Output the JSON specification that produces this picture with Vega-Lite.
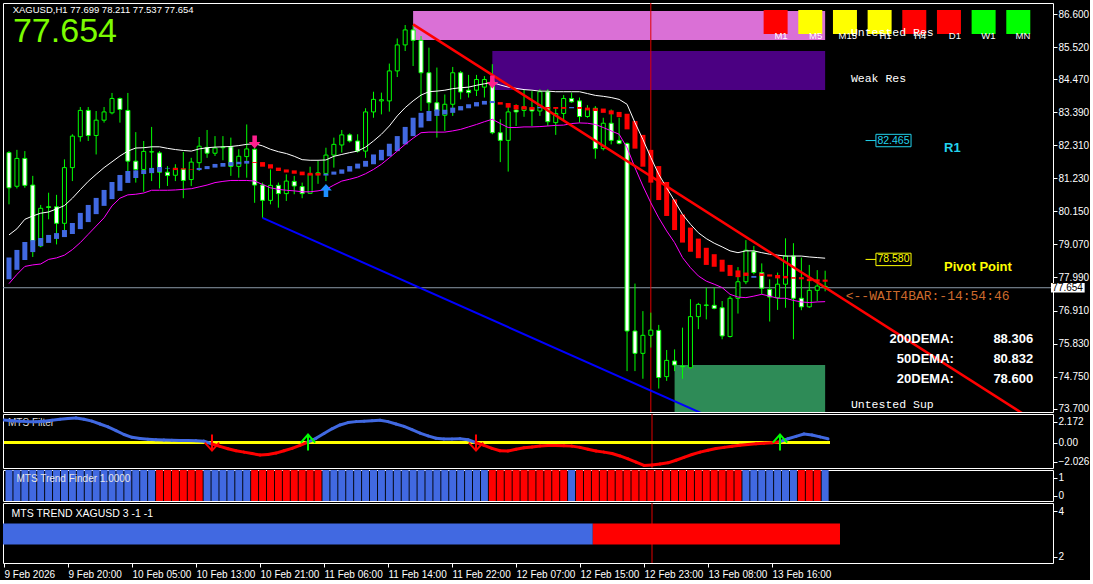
{
"$schema":"https://vega.github.io/schema/vega-lite/v6.json",
"background":"#000000",
"padding":{"left":2,"top":2,"right":0,"bottom":0},
"spacing":2,
"bounds":"flush",
"config":{
 "view":{"stroke":"#FFFFFF","strokeWidth":1,"fill":"#000000"},
 "axis":{"grid":false,"domain":false,"ticks":true,"tickColor":"#FFFFFF","tickSize":4,"tickWidth":1,"labelColor":"#FFFFFF","labelFont":"Liberation Sans","labelFontSize":10,"labelPadding":1,"labelOverlap":false,"labelFlush":false,"tickCount":40},
 "text":{"font":"Liberation Sans"}
},
"datasets":{
 "bars":[
{"k":0,"o":82.07,"h":82.12,"l":80.38,"c":80.92,"e":79.38,"m":77.79,"ht":78.64,"hb":77.93,"hd":"u","f":2.36,"fd":"u","tf":"u"},
{"k":1,"o":80.97,"h":82.16,"l":80.90,"c":81.88,"e":79.58,"m":78.09,"ht":78.89,"hb":78.24,"hd":"u","f":2.30,"fd":"u","tf":"u"},
{"k":2,"o":81.88,"h":82.12,"l":80.92,"c":81.00,"e":79.89,"m":78.35,"ht":79.15,"hb":78.56,"hd":"u","f":2.25,"fd":"u","tf":"u"},
{"k":3,"o":81.01,"h":81.31,"l":78.66,"c":79.18,"e":80.00,"m":78.40,"ht":79.21,"hb":78.82,"hd":"u","f":2.20,"fd":"u","tf":"u"},
{"k":4,"o":79.02,"h":80.36,"l":78.98,"c":80.25,"e":80.09,"m":78.43,"ht":79.28,"hb":79.02,"hd":"u","f":2.18,"fd":"u","tf":"u"},
{"k":5,"o":80.30,"h":80.76,"l":79.89,"c":80.28,"e":80.13,"m":78.58,"ht":79.38,"hb":79.12,"hd":"u","f":2.25,"fd":"u","tf":"u"},
{"k":6,"o":80.30,"h":80.69,"l":79.07,"c":79.76,"e":80.23,"m":78.63,"ht":79.44,"hb":79.25,"hd":"u","f":2.35,"fd":"u","tf":"u"},
{"k":7,"o":79.76,"h":81.85,"l":79.51,"c":81.58,"e":80.34,"m":78.72,"ht":79.54,"hb":79.31,"hd":"u","f":2.45,"fd":"u","tf":"u"},
{"k":8,"o":81.58,"h":82.67,"l":81.14,"c":82.61,"e":80.58,"m":78.90,"ht":79.77,"hb":79.41,"hd":"u","f":2.53,"fd":"u","tf":"u"},
{"k":9,"o":82.59,"h":83.56,"l":82.43,"c":83.45,"e":80.86,"m":79.13,"ht":80.10,"hb":79.57,"hd":"u","f":2.57,"fd":"u","tf":"u"},
{"k":10,"o":83.45,"h":83.56,"l":82.45,"c":82.63,"e":81.13,"m":79.40,"ht":80.36,"hb":79.80,"hd":"u","f":2.45,"fd":"u","tf":"u"},
{"k":11,"o":82.63,"h":83.43,"l":82.01,"c":83.13,"e":81.36,"m":79.67,"ht":80.59,"hb":80.06,"hd":"u","f":2.25,"fd":"u","tf":"u"},
{"k":12,"o":83.13,"h":83.56,"l":83.05,"c":83.40,"e":81.58,"m":79.94,"ht":80.85,"hb":80.33,"hd":"u","f":1.95,"fd":"u","tf":"u"},
{"k":13,"o":83.37,"h":84.02,"l":83.32,"c":83.84,"e":81.77,"m":80.33,"ht":81.11,"hb":80.55,"hd":"u","f":1.65,"fd":"u","tf":"u"},
{"k":14,"o":83.84,"h":83.87,"l":83.05,"c":83.48,"e":81.96,"m":80.58,"ht":81.34,"hb":80.82,"hd":"u","f":1.25,"fd":"u","tf":"u"},
{"k":15,"o":83.45,"h":84.02,"l":81.12,"c":81.79,"e":82.12,"m":80.69,"ht":81.47,"hb":81.08,"hd":"u","f":0.85,"fd":"u","tf":"u"},
{"k":16,"o":81.79,"h":82.74,"l":81.09,"c":81.52,"e":82.22,"m":80.71,"ht":81.49,"hb":81.24,"hd":"u","f":0.55,"fd":"u","tf":"u"},
{"k":17,"o":81.52,"h":82.45,"l":80.79,"c":82.11,"e":82.23,"m":80.75,"ht":81.50,"hb":81.37,"hd":"u","f":0.42,"fd":"u","tf":"u"},
{"k":18,"o":82.09,"h":82.91,"l":81.14,"c":82.10,"e":82.26,"m":80.84,"ht":81.57,"hb":81.40,"hd":"u","f":0.34,"fd":"u","tf":"u"},
{"k":19,"o":82.06,"h":82.12,"l":80.90,"c":81.43,"e":82.26,"m":80.84,"ht":81.60,"hb":81.44,"hd":"u","f":0.30,"fd":"u","tf":"d"},
{"k":20,"o":81.43,"h":81.63,"l":80.98,"c":81.32,"e":82.21,"m":80.84,"ht":81.57,"hb":81.55,"hd":"u","f":0.26,"fd":"u","tf":"d"},
{"k":21,"o":81.33,"h":81.69,"l":81.14,"c":81.56,"e":82.17,"m":80.85,"ht":81.57,"hb":81.50,"hd":"d","f":0.24,"fd":"u","tf":"d"},
{"k":22,"o":81.53,"h":82.09,"l":80.58,"c":81.16,"e":82.14,"m":80.87,"ht":81.56,"hb":81.52,"hd":"d","f":0.22,"fd":"u","tf":"d"},
{"k":23,"o":81.19,"h":81.90,"l":80.98,"c":81.76,"e":82.12,"m":80.89,"ht":81.53,"hb":81.51,"hd":"d","f":0.21,"fd":"u","tf":"d"},
{"k":24,"o":81.74,"h":82.58,"l":81.47,"c":82.28,"e":82.19,"m":80.95,"ht":81.57,"hb":81.50,"hd":"u","f":0.20,"fd":"u","tf":"d"},
{"k":25,"o":82.24,"h":82.81,"l":81.90,"c":82.05,"e":82.23,"m":81.01,"ht":81.63,"hb":81.53,"hd":"u","f":0.15,"fd":"u","tf":"u"},
{"k":26,"o":82.05,"h":82.61,"l":81.96,"c":82.22,"e":82.25,"m":81.09,"ht":81.70,"hb":81.58,"hd":"u","f":-0.15,"fd":"d","tf":"u"},
{"k":27,"o":82.23,"h":82.61,"l":81.82,"c":82.25,"e":82.26,"m":81.13,"ht":81.73,"hb":81.61,"hd":"u","f":-0.40,"fd":"d","tf":"u"},
{"k":28,"o":82.26,"h":82.56,"l":81.31,"c":81.62,"e":82.27,"m":81.16,"ht":81.76,"hb":81.64,"hd":"u","f":-0.65,"fd":"d","tf":"u"},
{"k":29,"o":81.62,"h":82.18,"l":81.25,"c":81.95,"e":82.30,"m":81.16,"ht":81.77,"hb":81.69,"hd":"u","f":-0.85,"fd":"d","tf":"u"},
{"k":30,"o":81.94,"h":82.99,"l":81.25,"c":82.19,"e":82.34,"m":81.16,"ht":81.80,"hb":81.71,"hd":"u","f":-1.00,"fd":"d","tf":"u"},
{"k":31,"o":82.18,"h":82.39,"l":80.43,"c":81.01,"e":82.36,"m":81.14,"ht":81.76,"hb":81.73,"hd":"d","f":-1.15,"fd":"d","tf":"d"},
{"k":32,"o":81.01,"h":81.09,"l":79.94,"c":80.51,"e":82.29,"m":81.03,"ht":81.76,"hb":81.61,"hd":"d","f":-1.30,"fd":"d","tf":"d"},
{"k":33,"o":80.51,"h":81.52,"l":80.38,"c":81.00,"e":82.18,"m":80.92,"ht":81.69,"hb":81.55,"hd":"d","f":-1.25,"fd":"d","tf":"d"},
{"k":34,"o":81.00,"h":81.09,"l":80.27,"c":80.73,"e":82.10,"m":80.87,"ht":81.58,"hb":81.47,"hd":"d","f":-1.10,"fd":"d","tf":"d"},
{"k":35,"o":80.73,"h":81.36,"l":80.49,"c":81.14,"e":82.04,"m":80.84,"ht":81.52,"hb":81.42,"hd":"d","f":-0.85,"fd":"d","tf":"d"},
{"k":36,"o":81.13,"h":81.31,"l":80.71,"c":80.98,"e":81.95,"m":80.82,"ht":81.49,"hb":81.38,"hd":"d","f":-0.60,"fd":"d","tf":"d"},
{"k":37,"o":80.96,"h":81.09,"l":80.58,"c":80.73,"e":81.84,"m":80.79,"ht":81.45,"hb":81.33,"hd":"d","f":-0.30,"fd":"d","tf":"d"},
{"k":38,"o":80.74,"h":81.61,"l":80.73,"c":81.37,"e":81.82,"m":80.79,"ht":81.41,"hb":81.32,"hd":"d","f":0.05,"fd":"u","tf":"d"},
{"k":39,"o":81.36,"h":81.80,"l":81.05,"c":81.41,"e":81.82,"m":80.82,"ht":81.40,"hb":81.32,"hd":"d","f":0.45,"fd":"u","tf":"d"},
{"k":40,"o":81.39,"h":82.23,"l":81.14,"c":81.99,"e":81.83,"m":80.87,"ht":81.38,"hb":81.32,"hd":"u","f":0.95,"fd":"u","tf":"u"},
{"k":41,"o":81.99,"h":82.56,"l":81.58,"c":82.34,"e":81.95,"m":81.01,"ht":81.45,"hb":81.35,"hd":"u","f":1.45,"fd":"u","tf":"u"},
{"k":42,"o":82.32,"h":82.81,"l":82.07,"c":82.65,"e":82.01,"m":81.14,"ht":81.52,"hb":81.38,"hd":"u","f":1.85,"fd":"u","tf":"u"},
{"k":43,"o":82.65,"h":82.70,"l":82.40,"c":82.45,"e":82.07,"m":81.20,"ht":81.63,"hb":81.45,"hd":"u","f":2.10,"fd":"u","tf":"u"},
{"k":44,"o":82.45,"h":82.67,"l":82.07,"c":82.12,"e":82.12,"m":81.27,"ht":81.71,"hb":81.55,"hd":"u","f":2.20,"fd":"u","tf":"u"},
{"k":45,"o":82.12,"h":83.52,"l":81.90,"c":83.40,"e":82.25,"m":81.38,"ht":81.80,"hb":81.61,"hd":"u","f":2.25,"fd":"u","tf":"u"},
{"k":46,"o":83.40,"h":84.06,"l":83.21,"c":83.81,"e":82.45,"m":81.52,"ht":82.01,"hb":81.69,"hd":"u","f":2.30,"fd":"u","tf":"u"},
{"k":47,"o":83.76,"h":84.03,"l":83.32,"c":83.80,"e":82.67,"m":81.69,"ht":82.16,"hb":81.82,"hd":"u","f":2.35,"fd":"u","tf":"u"},
{"k":48,"o":83.76,"h":84.98,"l":83.41,"c":84.74,"e":82.94,"m":81.90,"ht":82.36,"hb":81.95,"hd":"u","f":2.20,"fd":"u","tf":"u"},
{"k":49,"o":84.74,"h":85.80,"l":84.54,"c":85.59,"e":83.27,"m":82.12,"ht":82.61,"hb":82.12,"hd":"u","f":1.95,"fd":"u","tf":"u"},
{"k":50,"o":85.59,"h":86.24,"l":85.39,"c":86.08,"e":83.54,"m":82.34,"ht":82.91,"hb":82.34,"hd":"u","f":1.70,"fd":"u","tf":"u"},
{"k":51,"o":86.08,"h":86.24,"l":84.90,"c":85.74,"e":83.76,"m":82.54,"ht":83.21,"hb":82.61,"hd":"u","f":1.35,"fd":"u","tf":"u"},
{"k":52,"o":85.74,"h":85.88,"l":83.43,"c":84.68,"e":83.95,"m":82.72,"ht":83.37,"hb":82.89,"hd":"u","f":1.00,"fd":"u","tf":"u"},
{"k":53,"o":84.68,"h":85.50,"l":83.37,"c":83.70,"e":84.06,"m":82.74,"ht":83.43,"hb":83.10,"hd":"u","f":0.70,"fd":"u","tf":"u"},
{"k":54,"o":83.70,"h":84.85,"l":82.56,"c":83.43,"e":84.08,"m":82.74,"ht":83.48,"hb":83.27,"hd":"u","f":0.45,"fd":"u","tf":"u"},
{"k":55,"o":83.29,"h":83.97,"l":82.78,"c":83.65,"e":84.11,"m":82.74,"ht":83.47,"hb":83.32,"hd":"u","f":0.38,"fd":"u","tf":"u"},
{"k":56,"o":83.65,"h":84.87,"l":83.27,"c":84.68,"e":84.16,"m":82.78,"ht":83.54,"hb":83.37,"hd":"u","f":0.37,"fd":"u","tf":"u"},
{"k":57,"o":84.68,"h":84.74,"l":83.81,"c":84.05,"e":84.19,"m":82.83,"ht":83.59,"hb":83.45,"hd":"u","f":0.40,"fd":"u","tf":"u"},
{"k":58,"o":84.11,"h":84.61,"l":83.87,"c":84.03,"e":84.21,"m":82.91,"ht":83.65,"hb":83.52,"hd":"u","f":0.30,"fd":"u","tf":"u"},
{"k":59,"o":84.11,"h":84.61,"l":83.92,"c":84.46,"e":84.27,"m":82.99,"ht":83.72,"hb":83.58,"hd":"u","f":0.00,"fd":"d","tf":"u"},
{"k":60,"o":84.21,"h":84.57,"l":83.87,"c":84.46,"e":84.32,"m":83.08,"ht":83.76,"hb":83.64,"hd":"u","f":-0.30,"fd":"d","tf":"u"},
{"k":61,"o":84.41,"h":84.96,"l":82.67,"c":82.72,"e":84.36,"m":83.16,"ht":83.76,"hb":83.69,"hd":"u","f":-0.60,"fd":"d","tf":"d"},
{"k":62,"o":82.72,"h":83.16,"l":81.76,"c":82.47,"e":84.28,"m":83.02,"ht":83.72,"hb":83.64,"hd":"d","f":-0.85,"fd":"d","tf":"d"},
{"k":63,"o":82.47,"h":83.59,"l":81.45,"c":83.40,"e":84.21,"m":82.89,"ht":83.69,"hb":83.54,"hd":"d","f":-0.88,"fd":"d","tf":"d"},
{"k":64,"o":83.46,"h":83.65,"l":82.94,"c":83.40,"e":84.17,"m":82.89,"ht":83.63,"hb":83.48,"hd":"d","f":-0.70,"fd":"d","tf":"d"},
{"k":65,"o":83.45,"h":84.14,"l":83.24,"c":83.56,"e":84.13,"m":82.91,"ht":83.59,"hb":83.48,"hd":"d","f":-0.55,"fd":"d","tf":"d"},
{"k":66,"o":83.54,"h":84.08,"l":82.94,"c":83.43,"e":84.11,"m":82.91,"ht":83.56,"hb":83.47,"hd":"d","f":-0.45,"fd":"d","tf":"d"},
{"k":67,"o":83.43,"h":84.14,"l":83.27,"c":84.06,"e":84.08,"m":82.92,"ht":83.56,"hb":83.52,"hd":"u","f":-0.35,"fd":"d","tf":"d"},
{"k":68,"o":84.06,"h":84.14,"l":82.94,"c":83.08,"e":84.08,"m":82.94,"ht":83.56,"hb":83.51,"hd":"d","f":-0.30,"fd":"d","tf":"d"},
{"k":69,"o":83.05,"h":83.54,"l":82.65,"c":83.35,"e":84.06,"m":82.96,"ht":83.56,"hb":83.50,"hd":"d","f":-0.30,"fd":"d","tf":"d"},
{"k":70,"o":83.35,"h":83.95,"l":83.10,"c":83.84,"e":84.06,"m":82.97,"ht":83.56,"hb":83.50,"hd":"d","f":-0.33,"fd":"d","tf":"d"},
{"k":71,"o":83.84,"h":84.03,"l":83.70,"c":83.73,"e":84.06,"m":83.02,"ht":83.56,"hb":83.52,"hd":"u","f":-0.37,"fd":"d","tf":"u"},
{"k":72,"o":83.76,"h":83.87,"l":83.05,"c":83.25,"e":84.06,"m":83.04,"ht":83.56,"hb":83.50,"hd":"d","f":-0.50,"fd":"d","tf":"d"},
{"k":73,"o":83.25,"h":83.62,"l":83.21,"c":83.48,"e":84.00,"m":83.03,"ht":83.54,"hb":83.45,"hd":"d","f":-0.70,"fd":"d","tf":"d"},
{"k":74,"o":83.52,"h":83.59,"l":81.87,"c":82.20,"e":83.94,"m":82.99,"ht":83.52,"hb":83.43,"hd":"d","f":-0.88,"fd":"d","tf":"d"},
{"k":75,"o":82.20,"h":83.21,"l":82.14,"c":83.03,"e":83.91,"m":82.89,"ht":83.51,"hb":83.37,"hd":"d","f":-1.00,"fd":"d","tf":"d"},
{"k":76,"o":83.03,"h":83.48,"l":82.34,"c":82.47,"e":83.87,"m":82.78,"ht":83.45,"hb":83.32,"hd":"d","f":-1.15,"fd":"d","tf":"d"},
{"k":77,"o":82.47,"h":83.21,"l":82.34,"c":82.37,"e":83.81,"m":82.67,"ht":83.40,"hb":83.23,"hd":"d","f":-1.40,"fd":"d","tf":"d"},
{"k":78,"o":82.37,"h":82.40,"l":74.93,"c":76.24,"e":83.65,"m":82.23,"ht":83.34,"hb":82.83,"hd":"d","f":-1.70,"fd":"d","tf":"d"},
{"k":79,"o":76.24,"h":77.79,"l":74.93,"c":75.51,"e":83.05,"m":81.58,"ht":83.10,"hb":82.20,"hd":"d","f":-2.05,"fd":"d","tf":"d"},
{"k":80,"o":75.51,"h":76.89,"l":74.68,"c":76.10,"e":82.50,"m":80.98,"ht":82.65,"hb":81.61,"hd":"d","f":-2.39,"fd":"d","tf":"d"},
{"k":81,"o":76.10,"h":76.84,"l":75.70,"c":76.27,"e":81.91,"m":80.43,"ht":82.16,"hb":81.09,"hd":"d","f":-2.35,"fd":"d","tf":"d"},
{"k":82,"o":76.26,"h":76.44,"l":74.36,"c":74.72,"e":81.36,"m":79.94,"ht":81.63,"hb":80.52,"hd":"d","f":-2.25,"fd":"d","tf":"d"},
{"k":83,"o":74.75,"h":75.62,"l":74.61,"c":75.28,"e":80.92,"m":79.51,"ht":81.11,"hb":80.00,"hd":"d","f":-2.12,"fd":"d","tf":"d"},
{"k":84,"o":75.26,"h":75.64,"l":74.93,"c":75.13,"e":80.49,"m":79.13,"ht":80.54,"hb":79.54,"hd":"d","f":-1.85,"fd":"d","tf":"d"},
{"k":85,"o":75.09,"h":76.35,"l":74.68,"c":75.07,"e":80.05,"m":78.64,"ht":80.05,"hb":79.13,"hd":"d","f":-1.55,"fd":"d","tf":"d"},
{"k":86,"o":75.04,"h":77.28,"l":75.02,"c":76.71,"e":79.73,"m":78.31,"ht":79.62,"hb":78.83,"hd":"d","f":-1.25,"fd":"d","tf":"d"},
{"k":87,"o":76.71,"h":77.16,"l":76.30,"c":77.11,"e":79.45,"m":78.04,"ht":79.26,"hb":78.62,"hd":"d","f":-1.00,"fd":"d","tf":"d"},
{"k":88,"o":77.09,"h":77.66,"l":76.62,"c":77.08,"e":79.26,"m":77.87,"ht":78.96,"hb":78.40,"hd":"d","f":-0.80,"fd":"d","tf":"d"},
{"k":89,"o":77.08,"h":77.66,"l":76.95,"c":76.98,"e":79.11,"m":77.77,"ht":78.75,"hb":78.34,"hd":"d","f":-0.62,"fd":"d","tf":"d"},
{"k":90,"o":77.00,"h":77.22,"l":75.97,"c":76.08,"e":78.99,"m":77.66,"ht":78.57,"hb":78.18,"hd":"d","f":-0.50,"fd":"d","tf":"d"},
{"k":91,"o":76.06,"h":77.38,"l":76.03,"c":77.31,"e":78.86,"m":77.44,"ht":78.40,"hb":78.04,"hd":"d","f":-0.38,"fd":"d","tf":"d"},
{"k":92,"o":77.31,"h":78.33,"l":76.81,"c":77.85,"e":78.80,"m":77.35,"ht":78.22,"hb":78.00,"hd":"d","f":-0.28,"fd":"d","tf":"d"},
{"k":93,"o":77.85,"h":79.21,"l":77.77,"c":78.88,"e":78.86,"m":77.33,"ht":78.15,"hb":78.04,"hd":"d","f":-0.20,"fd":"d","tf":"u"},
{"k":94,"o":78.83,"h":79.02,"l":78.09,"c":78.15,"e":78.86,"m":77.38,"ht":78.04,"hb":77.98,"hd":"u","f":-0.13,"fd":"d","tf":"u"},
{"k":95,"o":78.15,"h":78.45,"l":77.44,"c":77.64,"e":78.80,"m":77.44,"ht":78.12,"hb":78.04,"hd":"d","f":-0.07,"fd":"d","tf":"u"},
{"k":96,"o":77.60,"h":77.93,"l":76.55,"c":77.35,"e":78.75,"m":77.38,"ht":78.09,"hb":78.02,"hd":"d","f":-0.02,"fd":"d","tf":"u"},
{"k":97,"o":77.33,"h":78.15,"l":76.93,"c":77.77,"e":78.72,"m":77.31,"ht":78.07,"hb":77.96,"hd":"d","f":0.10,"fd":"u","tf":"u"},
{"k":98,"o":77.77,"h":79.27,"l":77.00,"c":78.69,"e":78.69,"m":77.31,"ht":78.04,"hb":77.96,"hd":"d","f":0.40,"fd":"u","tf":"u"},
{"k":99,"o":78.69,"h":79.11,"l":75.97,"c":77.31,"e":78.69,"m":77.24,"ht":78.00,"hb":77.95,"hd":"d","f":0.65,"fd":"u","tf":"u"},
{"k":100,"o":77.31,"h":78.64,"l":76.92,"c":77.03,"e":78.69,"m":77.19,"ht":78.00,"hb":77.93,"hd":"d","f":0.90,"fd":"u","tf":"d"},
{"k":101,"o":77.03,"h":78.40,"l":77.00,"c":77.57,"e":78.66,"m":77.17,"ht":77.95,"hb":77.87,"hd":"d","f":0.80,"fd":"u","tf":"d"},
{"k":102,"o":77.57,"h":78.23,"l":77.22,"c":77.71,"e":78.64,"m":77.19,"ht":77.93,"hb":77.85,"hd":"d","f":0.60,"fd":"u","tf":"d"},
{"k":103,"o":77.699,"h":78.211,"l":77.537,"c":77.654,"e":78.62,"m":77.20,"ht":77.92,"hb":77.85,"hd":"d","f":0.40,"fd":"u","tf":"u"}
 ],
 "zones":[
  {"zone":"Untested Res","k0":51,"k1":103,"top":86.70,"bot":85.75},
  {"zone":"Weak Res","k0":61,"k1":103,"top":85.39,"bot":84.12},
  {"zone":"Untested Sup","k0":84,"k1":103,"top":75.13,"bot":73.2}
 ],
 "sig":[{"k":31,"p":82.42,"sig":"sell"},{"k":40,"p":80.83,"sig":"buy"},{"k":61,"p":84.38,"sig":"sell"}],
 "fsig":[{"k":26,"sig":"sell"},{"k":38,"sig":"buy"},{"k":59,"sig":"sell"},{"k":97,"sig":"buy"}],
 "trend":[{"from":-0.5,"to":73.6,"dir":"u"},{"from":73.6,"to":104.5,"dir":"d"}],
 "tf":[{"tf":"M1","s":"dn"},{"tf":"M5","s":"fl"},{"tf":"M15","s":"fl"},{"tf":"H1","s":"fl"},{"tf":"H4","s":"dn"},{"tf":"D1","s":"dn"},{"tf":"W1","s":"up"},{"tf":"MN","s":"up"}]
},
"vconcat":[
{
 "width":1050,"height":409,
 "layer":[
  {"data":{"name":"zones"},"mark":{"type":"rect","clip":true},
   "encoding":{
    "x":{"field":"k0","type":"quantitative","scale":{"domain":[-0.125,131.125],"nice":false,"zero":false},"axis":null},
    "x2":{"field":"k1"},
    "y":{"field":"top","type":"quantitative","title":null,"scale":{"domain":[73.5935,86.9595],"nice":false,"zero":false},
         "axis":{"orient":"right","values":[86.6,85.52,84.47,83.39,82.31,81.23,80.15,79.07,77.99,76.91,75.83,74.75,73.7],"format":".3f","title":null,"labelOverlap":false,"labelFlush":false,"tickCount":40}},
    "y2":{"field":"bot"},
    "color":{"condition":[{"test":"datum.zone==='Untested Res'","value":"#DA70D6"},{"test":"datum.zone==='Weak Res'","value":"#4B0082"}],"value":"#2E8B57"}}},
  {"data":{"values":[{}]},"mark":{"type":"rule","color":"#8D9BA9","strokeWidth":1},
   "encoding":{"y":{"datum":77.654,"type":"quantitative","title":null}}},
  {"data":{"values":[{}]},"mark":{"type":"rule","color":"#E00000","strokeWidth":1},
   "encoding":{"x":{"datum":81,"type":"quantitative","axis":null}}},
  {"data":{"name":"bars"},"mark":{"type":"rule","color":"#00FF00","strokeWidth":1},
   "encoding":{
    "x":{"field":"k","type":"quantitative","axis":null},
    "y":{"field":"l","type":"quantitative","title":null},
    "y2":{"field":"h"}}},
  {"data":{"name":"bars"},"mark":{"type":"bar","size":4,"stroke":"#00FF00","strokeWidth":1,"clip":true},
   "encoding":{
    "x":{"field":"k","type":"quantitative","axis":null},
    "y":{"field":"o","type":"quantitative","title":null},
    "y2":{"field":"c"},
    "fill":{"condition":{"test":"datum.c < datum.o","value":"#FFFFFF"},"value":"#000000"}}},
  {"data":{"name":"bars"},"mark":{"type":"bar","size":5,"clip":true},
   "encoding":{
    "x":{"field":"k","type":"quantitative","axis":null},
    "y":{"field":"ht","type":"quantitative","title":null},
    "y2":{"field":"hb"},
    "color":{"condition":{"test":"datum.hd==='u'","value":"#4169E1"},"value":"#FF0000"}}},
  {"data":{"name":"bars"},"mark":{"type":"line","color":"#FFFFFF","strokeWidth":1,"clip":true},
   "encoding":{
    "x":{"field":"k","type":"quantitative","axis":null},
    "y":{"field":"e","type":"quantitative","title":null}}},
  {"data":{"name":"bars"},"mark":{"type":"line","color":"#FF00FF","strokeWidth":1,"clip":true},
   "encoding":{
    "x":{"field":"k","type":"quantitative","axis":null},
    "y":{"field":"m","type":"quantitative","title":null}}},
  {"data":{"values":[{}]},"mark":{"type":"rule","color":"#0000FF","strokeWidth":2,"clip":true},
   "encoding":{
    "x":{"datum":32,"type":"quantitative","axis":null},"x2":{"datum":90},
    "y":{"datum":79.94,"type":"quantitative","title":null},"y2":{"datum":73.255}}},
  {"data":{"values":[{}]},"mark":{"type":"rule","color":"#FF0000","strokeWidth":2.5,"clip":true},
   "encoding":{
    "x":{"datum":51,"type":"quantitative","axis":null},"x2":{"datum":130},
    "y":{"datum":86.26,"type":"quantitative","title":null},"y2":{"datum":73.2}}},
  {"data":{"name":"sig"},"mark":{"type":"point","filled":true,"size":169,"opacity":1},
   "encoding":{
    "x":{"field":"k","type":"quantitative","axis":null},
    "y":{"field":"p","type":"quantitative","title":null},
    "shape":{"condition":{"test":"datum.sig==='sell'","value":"M-0.35,-1L0.35,-1L0.35,0L0.9,0L0,1L-0.9,0L-0.35,0Z"},"value":"M-0.35,1L0.35,1L0.35,0L0.9,0L0,-1L-0.9,0L-0.35,0Z"},
    "color":{"condition":{"test":"datum.sig==='sell'","value":"#FF1F8E"},"value":"#1E90FF"}}},

  {"data":{"name":"tf"},"transform":[{"filter":"datum.tf==='M1'"}],"encoding":{"x":{"datum":96.75,"type":"quantitative","axis":null},"y":{"datum":86.339,"type":"quantitative","title":null}},
   "layer":[{"mark":{"type":"square","size":576,"opacity":1},"encoding":{"color":{"condition":[{"test":"datum.s==='dn'","value":"#FF0000"},{"test":"datum.s==='fl'","value":"#FFFF00"}],"value":"#00FF00"}}},
            {"mark":{"type":"text","align":"right","baseline":"middle","dx":12,"dy":14,"fontSize":9.5,"color":"#FFFFFF"},"encoding":{"text":{"field":"tf"}}}]},
  {"data":{"name":"tf"},"transform":[{"filter":"datum.tf==='M5'"}],"encoding":{"x":{"datum":101.125,"type":"quantitative","axis":null},"y":{"datum":86.339,"type":"quantitative","title":null}},
   "layer":[{"mark":{"type":"square","size":576,"opacity":1},"encoding":{"color":{"condition":[{"test":"datum.s==='dn'","value":"#FF0000"},{"test":"datum.s==='fl'","value":"#FFFF00"}],"value":"#00FF00"}}},
            {"mark":{"type":"text","align":"right","baseline":"middle","dx":12,"dy":14,"fontSize":9.5,"color":"#FFFFFF"},"encoding":{"text":{"field":"tf"}}}]},
  {"data":{"name":"tf"},"transform":[{"filter":"datum.tf==='M15'"}],"encoding":{"x":{"datum":105.5,"type":"quantitative","axis":null},"y":{"datum":86.339,"type":"quantitative","title":null}},
   "layer":[{"mark":{"type":"square","size":576,"opacity":1},"encoding":{"color":{"condition":[{"test":"datum.s==='dn'","value":"#FF0000"},{"test":"datum.s==='fl'","value":"#FFFF00"}],"value":"#00FF00"}}},
            {"mark":{"type":"text","align":"right","baseline":"middle","dx":12,"dy":14,"fontSize":9.5,"color":"#FFFFFF"},"encoding":{"text":{"field":"tf"}}}]},
  {"data":{"name":"tf"},"transform":[{"filter":"datum.tf==='H1'"}],"encoding":{"x":{"datum":109.875,"type":"quantitative","axis":null},"y":{"datum":86.339,"type":"quantitative","title":null}},
   "layer":[{"mark":{"type":"square","size":576,"opacity":1},"encoding":{"color":{"condition":[{"test":"datum.s==='dn'","value":"#FF0000"},{"test":"datum.s==='fl'","value":"#FFFF00"}],"value":"#00FF00"}}},
            {"mark":{"type":"text","align":"right","baseline":"middle","dx":12,"dy":14,"fontSize":9.5,"color":"#FFFFFF"},"encoding":{"text":{"field":"tf"}}}]},
  {"data":{"name":"tf"},"transform":[{"filter":"datum.tf==='H4'"}],"encoding":{"x":{"datum":114.25,"type":"quantitative","axis":null},"y":{"datum":86.339,"type":"quantitative","title":null}},
   "layer":[{"mark":{"type":"square","size":576,"opacity":1},"encoding":{"color":{"condition":[{"test":"datum.s==='dn'","value":"#FF0000"},{"test":"datum.s==='fl'","value":"#FFFF00"}],"value":"#00FF00"}}},
            {"mark":{"type":"text","align":"right","baseline":"middle","dx":12,"dy":14,"fontSize":9.5,"color":"#FFFFFF"},"encoding":{"text":{"field":"tf"}}}]},
  {"data":{"name":"tf"},"transform":[{"filter":"datum.tf==='D1'"}],"encoding":{"x":{"datum":118.625,"type":"quantitative","axis":null},"y":{"datum":86.339,"type":"quantitative","title":null}},
   "layer":[{"mark":{"type":"square","size":576,"opacity":1},"encoding":{"color":{"condition":[{"test":"datum.s==='dn'","value":"#FF0000"},{"test":"datum.s==='fl'","value":"#FFFF00"}],"value":"#00FF00"}}},
            {"mark":{"type":"text","align":"right","baseline":"middle","dx":12,"dy":14,"fontSize":9.5,"color":"#FFFFFF"},"encoding":{"text":{"field":"tf"}}}]},
  {"data":{"name":"tf"},"transform":[{"filter":"datum.tf==='W1'"}],"encoding":{"x":{"datum":123.0,"type":"quantitative","axis":null},"y":{"datum":86.339,"type":"quantitative","title":null}},
   "layer":[{"mark":{"type":"square","size":576,"opacity":1},"encoding":{"color":{"condition":[{"test":"datum.s==='dn'","value":"#FF0000"},{"test":"datum.s==='fl'","value":"#FFFF00"}],"value":"#00FF00"}}},
            {"mark":{"type":"text","align":"right","baseline":"middle","dx":12,"dy":14,"fontSize":9.5,"color":"#FFFFFF"},"encoding":{"text":{"field":"tf"}}}]},
  {"data":{"name":"tf"},"transform":[{"filter":"datum.tf==='MN'"}],"encoding":{"x":{"datum":127.375,"type":"quantitative","axis":null},"y":{"datum":86.339,"type":"quantitative","title":null}},
   "layer":[{"mark":{"type":"square","size":576,"opacity":1},"encoding":{"color":{"condition":[{"test":"datum.s==='dn'","value":"#FF0000"},{"test":"datum.s==='fl'","value":"#FFFF00"}],"value":"#00FF00"}}},
            {"mark":{"type":"text","align":"right","baseline":"middle","dx":12,"dy":14,"fontSize":9.5,"color":"#FFFFFF"},"encoding":{"text":{"field":"tf"}}}]},

  {"data":{"values":[{}]},"mark":{"type":"text","align":"left","baseline":"middle","fontSize":9.5,"color":"#FFFFFF","text":"XAGUSD,H1  77.699 78.211 77.537 77.654"},
   "encoding":{"x":{"datum":0.46,"type":"quantitative","axis":null},"y":{"datum":86.73,"type":"quantitative","title":null}}},
  {"data":{"values":[{}]},"mark":{"type":"text","align":"left","baseline":"alphabetic","fontSize":34,"color":"#7CFC00","text":"77.654"},
   "encoding":{"x":{"datum":0.5,"type":"quantitative","axis":null},"y":{"datum":85.70,"type":"quantitative","title":null}}},
  {"data":{"values":[{}]},"mark":{"type":"text","align":"left","baseline":"middle","font":"Liberation Mono","fontSize":11.5,"color":"#FFFFFF","text":"Untested Res"},
   "encoding":{"x":{"datum":106.25,"type":"quantitative","axis":null},"y":{"datum":85.995,"type":"quantitative","title":null}}},
  {"data":{"values":[{}]},"mark":{"type":"text","align":"left","baseline":"middle","font":"Liberation Mono","fontSize":11.5,"color":"#FFFFFF","text":"Weak Res"},
   "encoding":{"x":{"datum":106.25,"type":"quantitative","axis":null},"y":{"datum":84.49,"type":"quantitative","title":null}}},
  {"data":{"values":[{}]},"mark":{"type":"text","align":"left","baseline":"middle","font":"Liberation Mono","fontSize":11.5,"color":"#FFFFFF","text":"Untested Sup"},
   "encoding":{"x":{"datum":106.25,"type":"quantitative","axis":null},"y":{"datum":73.82,"type":"quantitative","title":null}}},

  {"data":{"values":[{}]},"mark":{"type":"rule","color":"#22D3EE","strokeWidth":1},
   "encoding":{"x":{"datum":108.1,"type":"quantitative","axis":null},"x2":{"datum":109.41},"y":{"datum":82.465,"type":"quantitative","title":null}}},
  {"data":{"values":[{}]},"mark":{"type":"rect","fill":null,"fillOpacity":0,"stroke":"#22D3EE","strokeWidth":1},
   "encoding":{"x":{"datum":109.41,"type":"quantitative","axis":null},"x2":{"datum":113.84},"y":{"datum":82.668,"type":"quantitative","title":null},"y2":{"datum":82.262}}},
  {"data":{"values":[{}]},"mark":{"type":"text","align":"center","baseline":"middle","fontSize":10.5,"color":"#22D3EE","text":"82.465"},
   "encoding":{"x":{"datum":111.625,"type":"quantitative","axis":null},"y":{"datum":82.465,"type":"quantitative","title":null}}},
  {"data":{"values":[{}]},"mark":{"type":"text","align":"left","baseline":"middle","fontSize":13,"fontWeight":"bold","color":"#22D3EE","text":"R1"},
   "encoding":{"x":{"datum":118,"type":"quantitative","axis":null},"y":{"datum":82.22,"type":"quantitative","title":null}}},

  {"data":{"values":[{}]},"mark":{"type":"rule","color":"#FFFF00","strokeWidth":1},
   "encoding":{"x":{"datum":108.1,"type":"quantitative","axis":null},"x2":{"datum":109.41},"y":{"datum":78.58,"type":"quantitative","title":null}}},
  {"data":{"values":[{}]},"mark":{"type":"rect","fill":null,"fillOpacity":0,"stroke":"#FFFF00","strokeWidth":1},
   "encoding":{"x":{"datum":109.41,"type":"quantitative","axis":null},"x2":{"datum":113.84},"y":{"datum":78.783,"type":"quantitative","title":null},"y2":{"datum":78.377}}},
  {"data":{"values":[{}]},"mark":{"type":"text","align":"center","baseline":"middle","fontSize":10.5,"color":"#FFFF00","text":"78.580"},
   "encoding":{"x":{"datum":111.625,"type":"quantitative","axis":null},"y":{"datum":78.58,"type":"quantitative","title":null}}},
  {"data":{"values":[{}]},"mark":{"type":"text","align":"left","baseline":"middle","fontSize":13,"fontWeight":"bold","color":"#FFFF00","text":"Pivot Point"},
   "encoding":{"x":{"datum":118,"type":"quantitative","axis":null},"y":{"datum":78.33,"type":"quantitative","title":null}}},

  {"data":{"values":[{}]},"mark":{"type":"text","align":"left","baseline":"middle","font":"Liberation Mono","fontSize":13,"color":"#CC6A2C","text":"<--WAIT4BAR:-14:54:46"},
   "encoding":{"x":{"datum":105.6,"type":"quantitative","axis":null},"y":{"datum":77.38,"type":"quantitative","title":null}}},

  {"data":{"values":[{}]},"mark":{"type":"text","align":"right","baseline":"middle","fontSize":13,"fontWeight":"bold","color":"#FFFFFF","text":"200DEMA:"},
   "encoding":{"x":{"datum":119.25,"type":"quantitative","axis":null},"y":{"datum":75.98,"type":"quantitative","title":null}}},
  {"data":{"values":[{}]},"mark":{"type":"text","align":"right","baseline":"middle","fontSize":13,"fontWeight":"bold","color":"#FFFFFF","text":"88.306"},
   "encoding":{"x":{"datum":129.25,"type":"quantitative","axis":null},"y":{"datum":75.98,"type":"quantitative","title":null}}},
  {"data":{"values":[{}]},"mark":{"type":"text","align":"right","baseline":"middle","fontSize":13,"fontWeight":"bold","color":"#FFFFFF","text":"50DEMA:"},
   "encoding":{"x":{"datum":119.25,"type":"quantitative","axis":null},"y":{"datum":75.33,"type":"quantitative","title":null}}},
  {"data":{"values":[{}]},"mark":{"type":"text","align":"right","baseline":"middle","fontSize":13,"fontWeight":"bold","color":"#FFFFFF","text":"80.832"},
   "encoding":{"x":{"datum":129.25,"type":"quantitative","axis":null},"y":{"datum":75.33,"type":"quantitative","title":null}}},
  {"data":{"values":[{}]},"mark":{"type":"text","align":"right","baseline":"middle","fontSize":13,"fontWeight":"bold","color":"#FFFFFF","text":"20DEMA:"},
   "encoding":{"x":{"datum":119.25,"type":"quantitative","axis":null},"y":{"datum":74.67,"type":"quantitative","title":null}}},
  {"data":{"values":[{}]},"mark":{"type":"text","align":"right","baseline":"middle","fontSize":13,"fontWeight":"bold","color":"#FFFFFF","text":"78.600"},
   "encoding":{"x":{"datum":129.25,"type":"quantitative","axis":null},"y":{"datum":74.67,"type":"quantitative","title":null}}},

  {"data":{"values":[{}]},"mark":{"type":"rect","color":"#FFFFFF"},
   "encoding":{"x":{"datum":131.5,"type":"quantitative","axis":null},"x2":{"datum":135.75},"y":{"datum":77.811,"type":"quantitative","title":null},"y2":{"datum":77.497}}},
  {"data":{"values":[{}]},"mark":{"type":"text","align":"center","baseline":"middle","fontSize":10,"color":"#000000","text":"77.654"},
   "encoding":{"x":{"datum":133.6,"type":"quantitative","axis":null},"y":{"datum":77.654,"type":"quantitative","title":null}}}
 ]
},
{
 "width":1050,"height":54,
 "layer":[
  {"data":{"values":[{}]},"mark":{"type":"rule","color":"#E00000","strokeWidth":1},
   "encoding":{
    "x":{"datum":81,"type":"quantitative","scale":{"domain":[-0.125,131.125],"nice":false,"zero":false},"axis":null},
    "y":{"datum":0,"type":"quantitative","title":null,"scale":{"domain":[-2.665,3.0],"nice":false,"zero":false},
         "axis":{"orient":"right","values":[2.172,0,-2.026],"labelExpr":"datum.value===0 ? '0.00' : format(datum.value,'.3f')","title":null,"labelOverlap":false,"labelFlush":false,"tickCount":40}},
    "y2":{"datum":-2.665}}},
  {"data":{"values":[{}]},"mark":{"type":"rule","color":"#E00000","strokeWidth":1},
   "encoding":{"x":{"datum":81,"type":"quantitative","axis":null},"y":{"datum":3.0,"type":"quantitative","title":null},"y2":{"datum":0}}},
  {"data":{"values":[{}]},"mark":{"type":"text","align":"left","baseline":"middle","fontSize":10,"color":"#DDDDDD","text":"MTS Filter"},
   "encoding":{"x":{"datum":0.5,"type":"quantitative","axis":null},"y":{"datum":2.03,"type":"quantitative","title":null}}},
  {"data":{"values":[{}]},"mark":{"type":"rule","color":"#FFFF00","strokeWidth":3},
   "encoding":{"x":{"datum":0,"type":"quantitative","axis":null},"x2":{"datum":103.25},"y":{"datum":0,"type":"quantitative","title":null}}},
  {"data":{"name":"bars"},
   "transform":[{"window":[{"op":"lead","field":"k","as":"k2"},{"op":"lead","field":"f","as":"f2"}],"sort":[{"field":"k","order":"ascending"}]},{"filter":"datum.k2 != null"}],
   "mark":{"type":"rule","strokeWidth":3,"strokeCap":"round","clip":true},
   "encoding":{
    "x":{"field":"k","type":"quantitative","axis":null},"x2":{"field":"k2"},
    "y":{"field":"f","type":"quantitative","title":null},"y2":{"field":"f2"},
    "color":{"condition":{"test":"datum.fd==='u'","value":"#4169E1"},"value":"#FF0000"}}},
  {"data":{"name":"fsig"},"mark":{"type":"point","filled":false,"strokeWidth":2,"size":256,"opacity":1},
   "encoding":{
    "x":{"field":"k","type":"quantitative","axis":null},
    "y":{"datum":0,"type":"quantitative","title":null},
    "shape":{"condition":{"test":"datum.sig==='sell'","value":"M0,-1L0,1M-0.9,0L0,1L0.9,0"},"value":"M0,1L0,-1M-0.9,0L0,-1L0.9,0"},
    "color":{"condition":{"test":"datum.sig==='sell'","value":"#FF0000"},"value":"#00FF00"}}}
 ]
},
{
 "width":1050,"height":31,
 "layer":[
  {"data":{"values":[{}]},"mark":{"type":"rule","color":"#E00000","strokeWidth":1},
   "encoding":{
    "x":{"datum":81,"type":"quantitative","scale":{"domain":[-0.125,131.125],"nice":false,"zero":false},"axis":null},
    "y":{"datum":1.428,"type":"quantitative","title":null,"scale":{"domain":[-0.294,1.428],"nice":false,"zero":false},
         "axis":{"orient":"right","values":[0,1],"format":"d","title":null,"labelOverlap":false,"labelFlush":false,"tickCount":40}},
    "y2":{"datum":-0.294}}},
  {"data":{"name":"bars"},"mark":{"type":"bar","size":7,"clip":true},
   "encoding":{
    "x":{"field":"k","type":"quantitative","axis":null},
    "y":{"datum":1.428,"type":"quantitative","title":null},"y2":{"datum":-0.294},
    "color":{"condition":{"test":"datum.tf==='u'","value":"#4169E1"},"value":"#FF0000"}}},
  {"data":{"values":[{}]},"mark":{"type":"text","align":"left","baseline":"middle","fontSize":10,"color":"#E6E6E6","text":"MTS Trend Finder 1.0000"},
   "encoding":{"x":{"datum":0.94,"type":"quantitative","axis":null},"y":{"datum":0.91,"type":"quantitative","title":null}}}
 ]
},
{
 "width":1050,"height":60,
 "layer":[
  {"data":{"values":[{}]},"mark":{"type":"rule","color":"#E00000","strokeWidth":1},
   "encoding":{
    "x":{"datum":81,"type":"quantitative","title":null,"scale":{"domain":[-0.125,131.125],"nice":false,"zero":false},
         "axis":{"orient":"bottom","values":[0,8,16,24,32,40,48,56,64,72,80,88,96],"labelExpr":"['9 Feb 2026','9 Feb 20:00','10 Feb 05:00','10 Feb 13:00','10 Feb 21:00','11 Feb 06:00','11 Feb 14:00','11 Feb 22:00','12 Feb 07:00','12 Feb 15:00','12 Feb 23:00','13 Feb 08:00','13 Feb 16:00'][round(datum.value/8)]","labelAlign":"left","labelBaseline":"top","labelPadding":2,"title":null,"labelOverlap":false,"labelFlush":false,"tickCount":40}},
    "y":{"datum":4.348,"type":"quantitative","title":null,"scale":{"domain":[1.739,4.348],"nice":false,"zero":false},
         "axis":{"orient":"right","values":[2,4],"format":"d","title":null,"labelOverlap":false,"labelFlush":false,"tickCount":40}},
    "y2":{"datum":1.739}}},
  {"data":{"name":"trend"},"mark":{"type":"rule","strokeWidth":21,"clip":true},
   "encoding":{
    "x":{"field":"from","type":"quantitative","title":null},"x2":{"field":"to"},
    "y":{"datum":3,"type":"quantitative","title":null},
    "color":{"condition":{"test":"datum.dir==='u'","value":"#4169E1"},"value":"#FF0000"}}},
  {"data":{"values":[{}]},"mark":{"type":"text","align":"left","baseline":"middle","fontSize":10.5,"color":"#FFFFFF","text":"MTS TREND XAGUSD  3 -1 -1"},
   "encoding":{"x":{"datum":0.94,"type":"quantitative","title":null},"y":{"datum":3.88,"type":"quantitative","title":null}}}
 ]
}
]
}
